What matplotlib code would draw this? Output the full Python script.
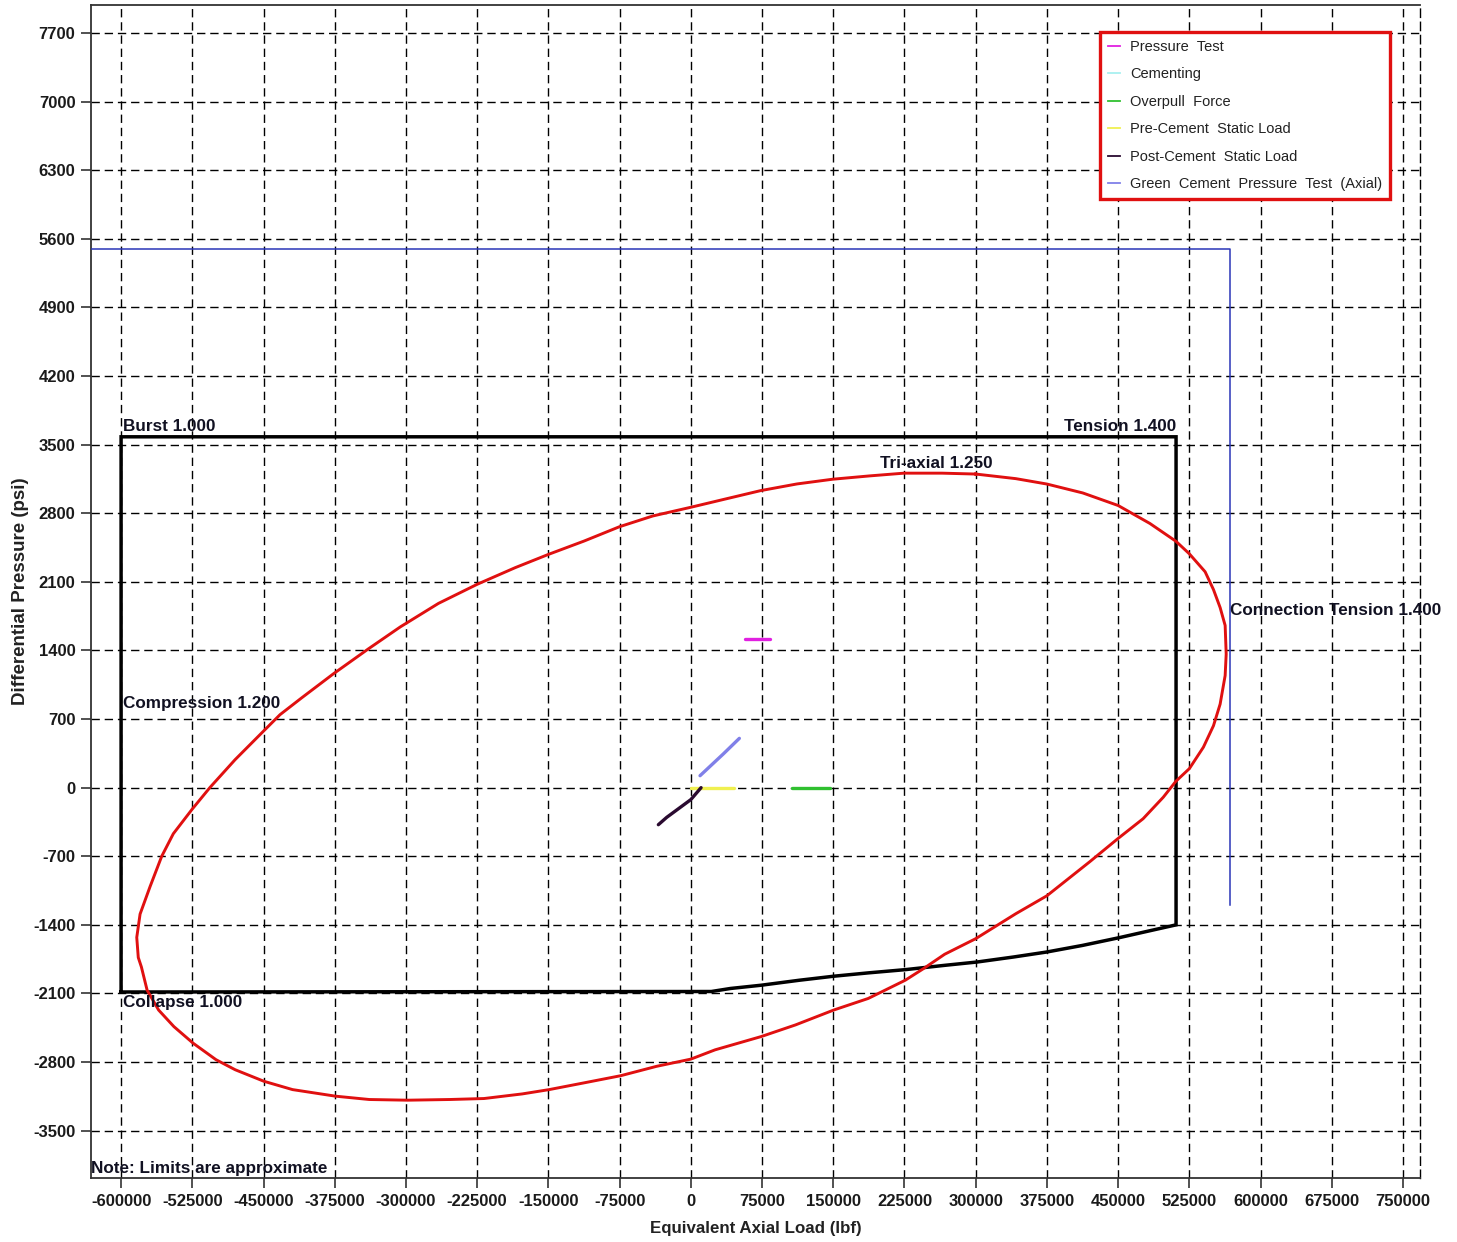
import matplotlib
matplotlib.use("Agg")
import matplotlib.pyplot as plt
from matplotlib.lines import Line2D

plt.rcParams['font.family'] = ['Liberation Sans', 'DejaVu Sans']

# ---------------- data ----------------
x_ticks = [-600000, -525000, -450000, -375000, -300000, -225000, -150000, -75000,
           0, 75000, 150000, 225000, 300000, 375000, 450000, 525000, 600000, 675000, 750000]
y_ticks = [7700, 7000, 6300, 5600, 4900, 4200, 3500, 2800, 2100, 1400, 700, 0,
           -700, -1400, -2100, -2800, -3500]

# Tri-axial 1.250 envelope
triax_x = [300000, 264600, 224400, 188200, 149200, 111800, 73600, 35400, 0, -40100,
           -75000, -112500, -150000, -184900, -225000, -265800, -306000, -339600,
           -376500, -410000, -432600, -450200, -480000, -506300, -525000, -545000,
           -557200, -569500, -580000,
           -583500, -581900, -578600, -572600, -560500, -544400, -524200, -500000,
           -479900, -449600, -419400, -374200, -338700, -298400, -254000, -217800,
           -177500, -149200, -112900, -73800, -36300, 0, 25600, 74000, 110200,
           150500, 186800, 225800, 245100, 267300, 300000, 342300, 375000, 420100,
           450000, 476300, 497500, 510900, 525000, 539800, 550400, 557400, 562700,
           563800, 562700, 557400, 550400, 541600, 525000, 510900, 483400, 450000,
           412800, 375000, 342300, 300000]
triax_y = [3200, 3209, 3209, 3181, 3147, 3099, 3031, 2943, 2861, 2772,
           2663, 2516, 2380, 2245, 2075, 1880, 1640, 1416,
           1161, 915, 745, 575, 285, 3, -218, -470,
           -700, -1010, -1290,
           -1528, -1733, -1830, -2066, -2269, -2438, -2607, -2776,
           -2878, -2996, -3081, -3148, -3182, -3189, -3182, -3172,
           -3125, -3081, -3013, -2939, -2844, -2770, -2675, -2540, -2421,
           -2269, -2151, -1965, -1846, -1700, -1541, -1286, -1103, -756,
           -518, -317, -98, 66, 194, 413, 632, 852, 1144,
           1363, 1655, 1838, 2021, 2203, 2386, 2514, 2696, 2879,
           3007, 3098, 3153, 3200]

# API limits (burst / collapse / compression / tension)
api_x = [-600000, -600000, 511000, 511000, 484800, 450500, 412300, 374800, 339800,
         301500, 267300, 225800, 186800, 150500, 114300, 74000, 41800, 21600, -600000]
api_y = [-2085, 3580, 3580, -1400, -1457, -1532, -1610, -1677, -1728,
         -1779, -1813, -1857, -1890, -1924, -1965, -2016, -2049, -2080, -2085]

# Connection tension 1.400
conn_x = [-640000, 568000, 568000]
conn_y = [5500, 5500, -1200]

# Load cases
pressure_test_x = [57000, 83000]
pressure_test_y = [1520, 1520]
cementing_x = []
cementing_y = []
overpull_x = [107000, 146500]
overpull_y = [0, 0]
precement_x = [0, 45700]
precement_y = [0, 0]
postcement_x = [10800, 0, -25400, -34200]
postcement_y = [0, -122, -303, -378]
greencement_x = [9700, 34200, 51100]
greencement_y = [122, 344, 503]

legend_labels = ["Pressure  Test", "Cementing", "Overpull  Force",
                 "Pre-Cement  Static Load", "Post-Cement  Static Load",
                 "Green  Cement  Pressure  Test  (Axial)"]
legend_colors = ["#e020e0", "#a8f0f0", "#30c030", "#f0f050", "#2a0a30", "#8080e8"]

# ---------------- figure ----------------
W, H = 1457, 1242
fig = plt.figure(figsize=(W / 100, H / 100), dpi=100)
ax = fig.add_axes([90.7 / W, 1 - 1178.3 / H, (1420 - 90.7) / W, (1178.3 - 5) / H])
ax.set_xlim(-632000, 767900)
ax.set_ylim(-3986, 7986)

ax.set_xticks(x_ticks)
ax.set_yticks(y_ticks)
ax.set_xticklabels([str(v) for v in x_ticks])
ax.set_yticklabels([str(v) for v in y_ticks])
ax.tick_params(direction='out', length=7, width=1.2, color='#333333',
               labelsize=12, pad=4)
for lab in ax.get_xticklabels() + ax.get_yticklabels():
    lab.set_fontweight('bold')
    lab.set_color('#1a1a1a')

ax.grid(True, color='black', linestyle=(0, (6, 3.5)), linewidth=1.0)
ax.set_axisbelow(True)
for s in ['left', 'top', 'bottom']:
    ax.spines[s].set_color('#333333')
    ax.spines[s].set_linewidth(1.3)
ax.spines['right'].set_linestyle((0, (6, 3.5)))
ax.spines['right'].set_linewidth(1.0)

ax.plot(conn_x, conn_y, color='#2a36b8', lw=1.1, zorder=3)
ax.plot(api_x, api_y, color='black', lw=2.5, zorder=4, solid_joinstyle='miter')
ax.plot(triax_x, triax_y, color='#e01010', lw=2.1, zorder=5)

series = [(pressure_test_x, pressure_test_y), (cementing_x, cementing_y),
          (overpull_x, overpull_y), (precement_x, precement_y),
          (postcement_x, postcement_y), (greencement_x, greencement_y)]
for (sx, sy), c in zip(series, legend_colors):
    ax.plot(sx, sy, color=c, lw=2.4, zorder=6, solid_capstyle='round')

tcol = '#111122'
tk = dict(fontsize=12.3, fontweight='bold', color=tcol, zorder=7)
ax.text(-598000, 3686, "Burst 1.000", ha='left', va='center', **tk)
ax.text(511000, 3686, "Tension 1.400", ha='right', va='center', **tk)
ax.text(199000, 3308, "Tri-axial 1.250", ha='left', va='center', **tk)
ax.text(-598000, 858, "Compression 1.200", ha='left', va='center', **tk)
ax.text(-598000, -2195, "Collapse 1.000", ha='left', va='center', **tk)
ax.text(568000, 1807, "Connection Tension 1.400", ha='left', va='center', **tk)
ax.text(0.0, (1178.3 - 1168) / 1173.3, "Note: Limits are approximate",
        transform=ax.transAxes, ha='left', va='center', **tk)

ax.set_xlabel("Equivalent Axial Load (lbf)", fontsize=12.2, fontweight='bold',
              color='#222222', labelpad=9)
ax.set_ylabel("Differential Pressure (psi)", fontsize=13.5, fontweight='bold',
              color='#222222', labelpad=3)

handles = [Line2D([0], [0], color=c, lw=1.3) for c in legend_colors]
leg = ax.legend(handles, legend_labels, loc='upper left',
                bbox_to_anchor=((1100 - 90.7) / 1329.3, 1 - (32 - 5) / 1173.3),
                borderaxespad=0, frameon=True, fancybox=False, fontsize=10.5,
                handlelength=0.85, handletextpad=0.65, labelspacing=0.92,
                borderpad=0.55)
leg.get_frame().set_edgecolor('#e01010')
leg.get_frame().set_linewidth(2.4)
leg.get_frame().set_facecolor('white')
leg.get_frame().set_alpha(1)
for t in leg.get_texts():
    t.set_color('#222222')

fig.savefig("out.png", dpi=100)
